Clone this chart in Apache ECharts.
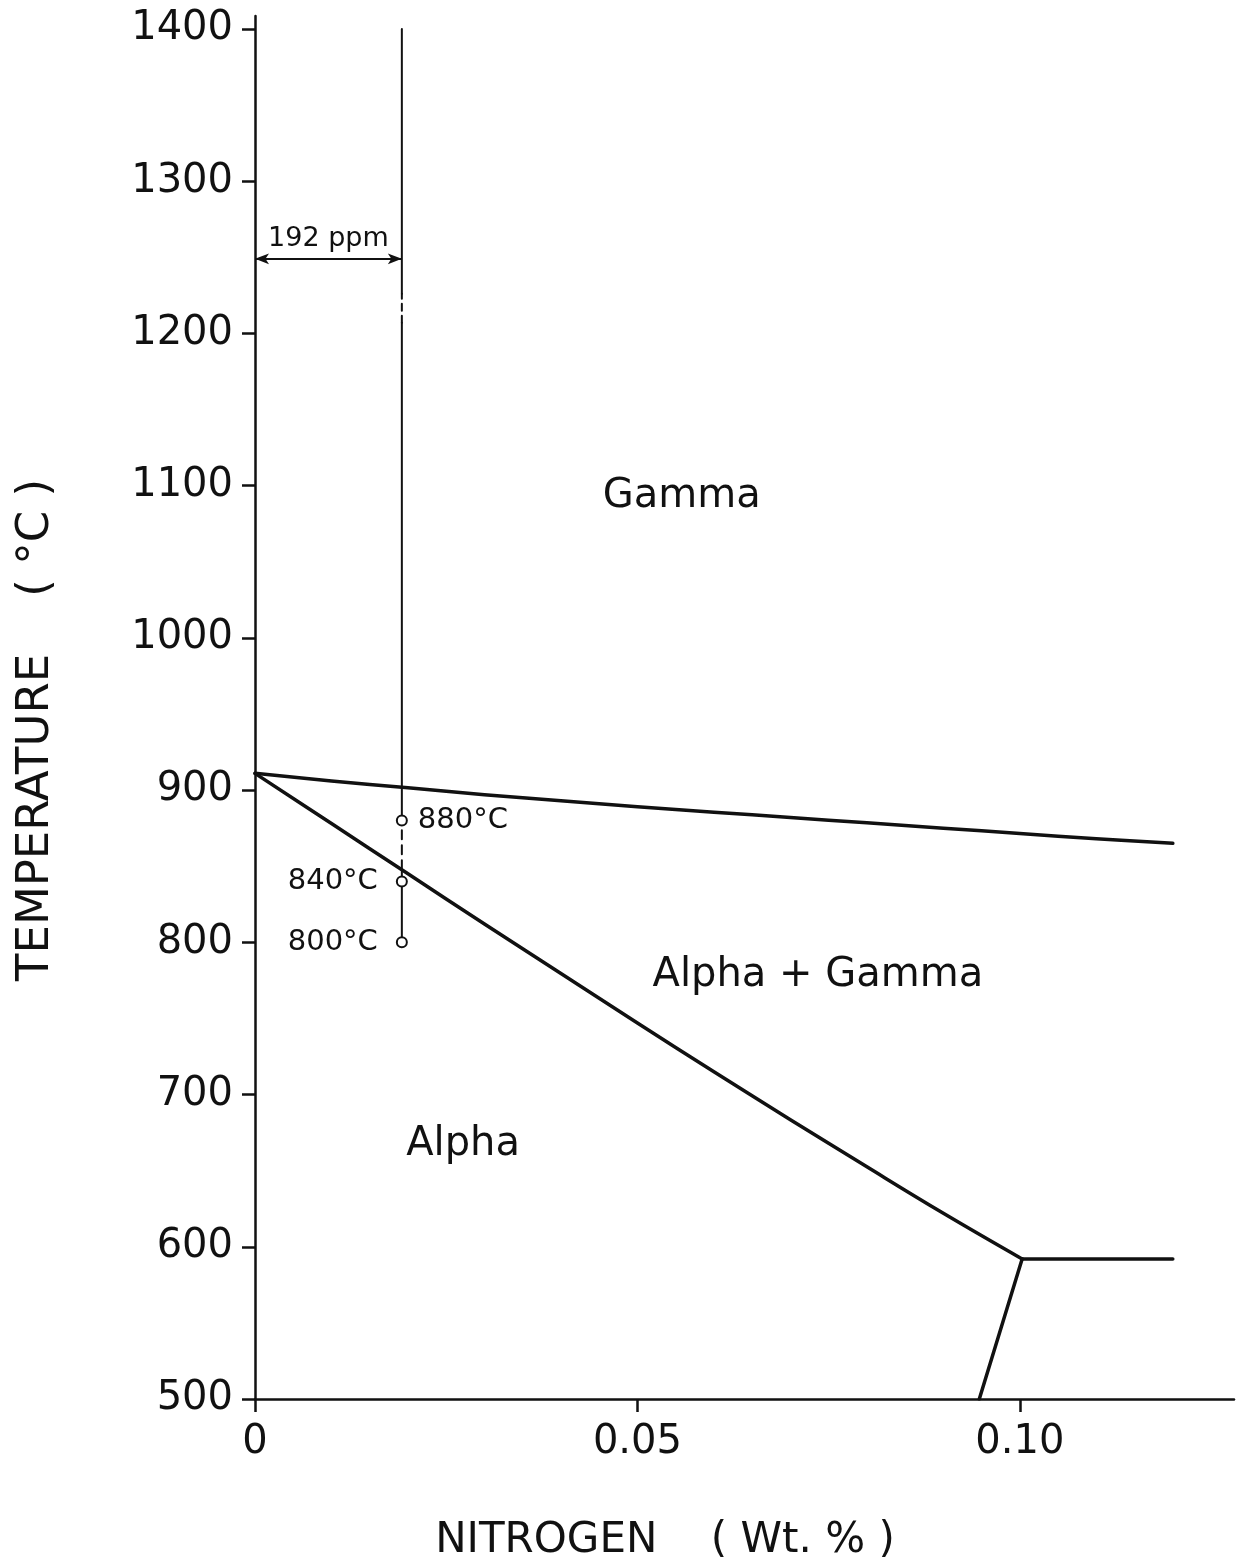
<!DOCTYPE html>
<html>
<head>
<meta charset="utf-8">
<script src="https://cdn.jsdelivr.net/npm/echarts@6/dist/echarts.min.js"></script>
<style>
  html, body { margin: 0; padding: 0; background: #fff; }
  #chart { width: 1238px; height: 1564px; }
</style>
</head>
<body>
<div id="chart"></div>
<script>
// Fe–N phase boundaries, temperature (°C) against nitrogen content (wt.%)
const xTickValues = [0, 0.05, 0.10];
const xTickLabels = ['0', '0.05', '0.10'];
const yTickValues = [500, 600, 700, 800, 900, 1000, 1100, 1200, 1300, 1400];

// gamma / alpha+gamma boundary
const upperN = [0, 0.01, 0.02, 0.03, 0.04, 0.05, 0.06, 0.07, 0.08, 0.09, 0.10, 0.11, 0.12];
const upperT = [911, 906, 901.5, 897, 893, 889, 885.5, 882, 878.5, 875, 871.5, 868, 865];

// alpha / alpha+gamma boundary
const lowerN = [0, 0.01, 0.02, 0.03, 0.04, 0.05, 0.06, 0.07, 0.08, 0.09, 0.1003];
const lowerT = [911, 878, 845, 812, 779.5, 747, 715, 683.5, 652.5, 622, 592];

// eutectoid isotherm and the boundary below it
const eutectoidN = [0.1003, 0.12];
const eutectoidT = [592, 592];
const lowBranchN = [0.0947, 0.1003];
const lowBranchT = [500, 592];

// specimen composition (192 ppm N) and its heat-treatment temperatures
const sampleN = 0.0192;
const sampleSolidLow = [800, 848];
const sampleDashedMid = [848, 879];
const sampleSolidHigh = [881, 1207];
const sampleDashedTop = [1207, 1226];
const sampleSolidTop = [1226, 1400];
const treatTemps = [880, 840, 800];
const treatLabels = ['880°C', '840°C', '800°C'];
const treatLabelSide = ['right', 'left', 'left'];

const dimensionT = 1249;
const dimensionText = '192 ppm';

const regionNames = ['Gamma', 'Alpha + Gamma', 'Alpha'];
const regionN = [0.0558, 0.0736, 0.0272];
const regionT = [1093, 778, 667];

const FONT = 'DejaVu Sans';
const INK = '#111';

function pairs(xs, ys) { return xs.map((x, i) => [x, ys[i]]); }
function vSeg(range) { return [[sampleN, range[0]], [sampleN, range[1]]]; }

function lineSeries(data, width, type, smooth) {
  return {
    type: 'line',
    data: data,
    showSymbol: false,
    smooth: smooth || false,
    silent: true,
    lineStyle: { color: INK, width: width, type: type || 'solid', cap: 'round', join: 'round' },
    z: 3
  };
}

const chart = echarts.init(document.getElementById('chart'), null, { renderer: 'canvas' });

chart.setOption({
  animation: false,
  backgroundColor: '#fff',
  grid: { left: 255, right: 4, top: 16, bottom: 165, containLabel: false },
  xAxis: {
    type: 'value',
    min: 0,
    max: 0.128,
    splitLine: { show: false },
    axisLine: { show: true, lineStyle: { color: INK, width: 2.5 } },
    axisTick: { show: true, length: 13, customValues: xTickValues, lineStyle: { color: INK, width: 2.5 } },
    axisLabel: {
      customValues: xTickValues,
      margin: 24,
      fontFamily: FONT,
      fontSize: 40,
      color: INK,
      formatter: v => {
        const i = xTickValues.findIndex(t => Math.abs(t - v) < 1e-9);
        return i >= 0 ? xTickLabels[i] : '';
      }
    }
  },
  yAxis: {
    type: 'value',
    min: 500,
    max: 1408.5,
    splitLine: { show: false },
    axisLine: { show: true, onZero: false, lineStyle: { color: INK, width: 2.5 } },
    axisTick: { show: true, length: 13, customValues: yTickValues, lineStyle: { color: INK, width: 2.5 } },
    axisLabel: {
      customValues: yTickValues,
      margin: 22,
      fontFamily: FONT,
      fontSize: 40,
      color: INK,
      formatter: v => String(v)
    }
  },
  graphic: [
    {
      type: 'text',
      x: 36,
      y: 730,
      rotation: Math.PI / 2,
      style: {
        text: 'TEMPERATURE    ( °C )',
        font: '45px "DejaVu Sans"',
        fill: INK,
        align: 'center',
        verticalAlign: 'middle'
      }
    },
    {
      type: 'text',
      x: 665,
      y: 1541,
      style: {
        text: 'NITROGEN    ( Wt. % )',
        font: '42px "DejaVu Sans"',
        fill: INK,
        align: 'center',
        verticalAlign: 'middle'
      }
    }
  ],
  series: [
    lineSeries(pairs(upperN, upperT), 3.5, 'solid', 0.4),
    lineSeries(pairs(lowerN, lowerT), 3.5, 'solid', 0.4),
    lineSeries(pairs(eutectoidN, eutectoidT), 3.5),
    lineSeries(pairs(lowBranchN, lowBranchT), 3.5),
    lineSeries(vSeg(sampleSolidLow), 2),
    lineSeries(vSeg(sampleDashedMid), 2, [9, 6]),
    lineSeries(vSeg(sampleSolidHigh), 2),
    lineSeries(vSeg(sampleDashedTop), 2, [7, 5]),
    lineSeries(vSeg(sampleSolidTop), 2),
    {
      // dimension arrow for the specimen composition
      type: 'line',
      data: [],
      silent: true,
      markLine: {
        silent: true,
        symbol: ['arrow', 'arrow'],
        symbolSize: [8, 14],
        label: { show: false },
        lineStyle: { color: INK, width: 2, type: 'solid', opacity: 1 },
        itemStyle: { color: INK, opacity: 1 },
        data: [[{ coord: [0, dimensionT] }, { coord: [sampleN, dimensionT] }]]
      }
    },
    {
      type: 'scatter',
      silent: true,
      symbolSize: 0,
      itemStyle: { opacity: 1 },
      data: [[sampleN / 2, dimensionT]],
      label: {
        show: true,
        position: 'top',
        distance: 6,
        formatter: dimensionText,
        fontFamily: FONT,
        fontSize: 27,
        color: INK,
        opacity: 1
      }
    },
    {
      // heat-treatment temperatures
      type: 'scatter',
      silent: true,
      symbol: 'circle',
      symbolSize: 10,
      itemStyle: { color: '#fff', borderColor: INK, borderWidth: 2, opacity: 1 },
      z: 5,
      data: treatTemps.map((t, i) => ({
        value: [sampleN, t],
        label: {
          show: true,
          position: treatLabelSide[i],
          distance: treatLabelSide[i] === 'right' ? 10 : 18,
          formatter: treatLabels[i],
          fontFamily: FONT,
          fontSize: 29,
          color: INK,
          opacity: 1
        }
      }))
    },
    {
      // phase field names
      type: 'scatter',
      silent: true,
      symbolSize: 0,
      itemStyle: { opacity: 1 },
      data: regionNames.map((n, i) => ({ value: [regionN[i], regionT[i]], name: n })),
      label: {
        show: true,
        position: 'inside',
        formatter: p => p.name,
        fontFamily: FONT,
        fontSize: 40,
        color: INK,
        opacity: 1
      }
    }
  ]
});
</script>
</body>
</html>
